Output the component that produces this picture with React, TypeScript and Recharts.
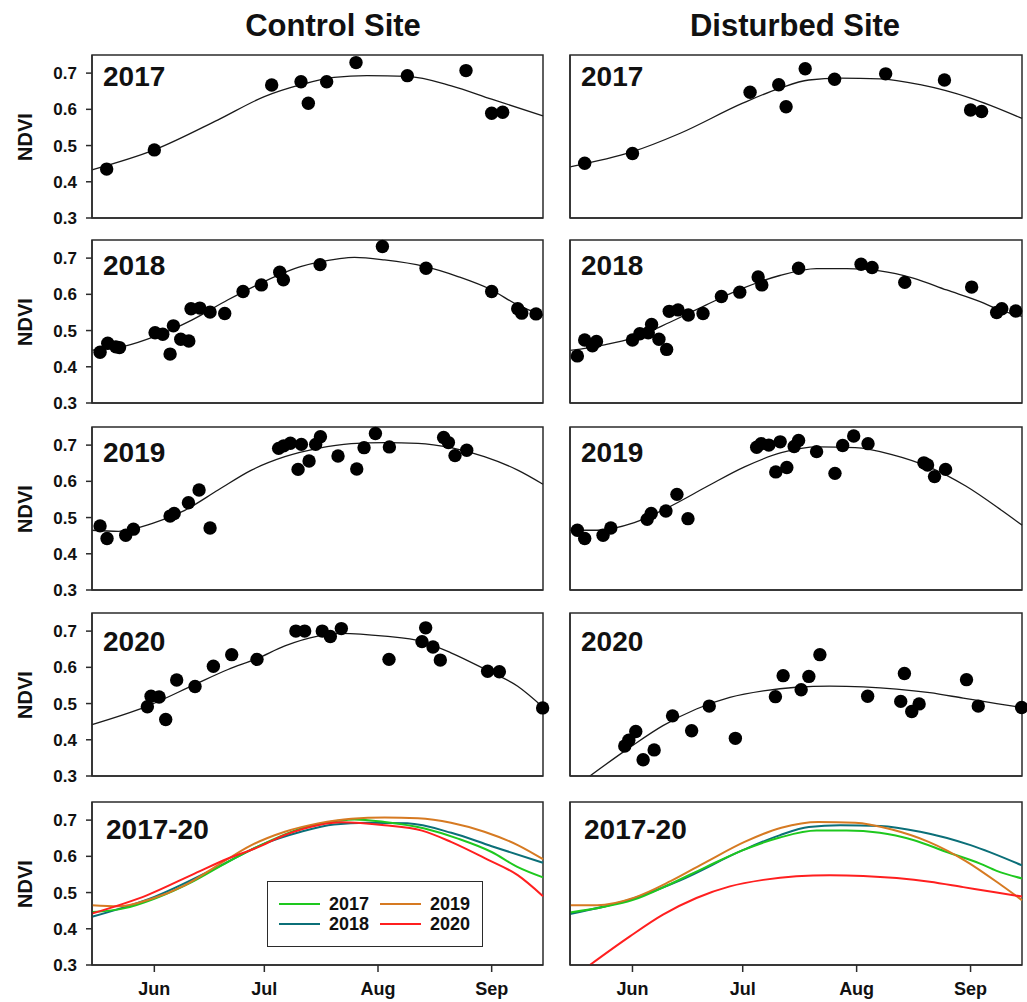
import React from 'react';
import { ComposedChart, XAxis, YAxis, Scatter, Line, ReferenceArea } from 'recharts';

// day of year for the first of each month shown on the x axis
const monthTicks = [152, 182, 213, 244];
const monthLabels = ['Jun', 'Jul', 'Aug', 'Sep'];
const ndviTicks = [0.3, 0.4, 0.5, 0.6, 0.7];
const siteTitles = ['Control Site', 'Disturbed Site'];
const yearLabels = ['2017', '2018', '2019', '2020', '2017-20'];

// observations: [day of year, NDVI]
const control2017Obs = [
  [139, 0.435], [152, 0.488], [184, 0.667], [192, 0.676], [194, 0.617], [199, 0.676],
  [207, 0.729], [221, 0.693], [237, 0.707], [244, 0.589], [247, 0.592],
];
const disturbed2017Obs = [
  [139, 0.451], [152, 0.478], [184, 0.647], [191.8, 0.668], [193.8, 0.607], [199, 0.712],
  [207, 0.683], [220.9, 0.698], [236.9, 0.681], [244, 0.598], [247, 0.594],
];
const control2018Obs = [
  [137.2, 0.44], [139.3, 0.465], [141.5, 0.455], [142.5, 0.453], [152.2, 0.494], [154.3, 0.49],
  [156.3, 0.435], [157.2, 0.513], [159.2, 0.476], [161.4, 0.471], [162, 0.56], [164.4, 0.562],
  [167.2, 0.551], [171.2, 0.547], [176.2, 0.608], [181.2, 0.626], [186.2, 0.661], [187.2, 0.64],
  [197.2, 0.682], [214.2, 0.732], [226.1, 0.672], [244, 0.608], [251.1, 0.56], [252.2, 0.548],
  [256.1, 0.546],
];
const disturbed2018Obs = [
  [137, 0.43], [139, 0.474], [141.1, 0.458], [142.2, 0.47], [152, 0.474], [154, 0.491],
  [156.3, 0.494], [157.2, 0.517], [159.2, 0.476], [161.3, 0.448], [162, 0.553], [164.4, 0.557],
  [167.2, 0.543], [171.2, 0.547], [176.2, 0.594], [181.2, 0.606], [186.2, 0.648], [187.2, 0.626],
  [197.2, 0.672], [214.2, 0.683], [217.2, 0.674], [226.1, 0.633], [244.3, 0.62], [251.1, 0.55],
  [252.5, 0.56], [256.3, 0.554],
];
const control2019Obs = [
  [137.2, 0.477], [139.1, 0.442], [144.2, 0.451], [146.3, 0.468], [156.3, 0.504], [157.4, 0.511],
  [161.3, 0.541], [164.2, 0.576], [167.2, 0.471], [185.9, 0.691], [187.3, 0.698], [189.1, 0.705],
  [192.1, 0.702], [191.2, 0.633], [194.2, 0.656], [196, 0.702], [197.3, 0.723], [202.1, 0.67],
  [207.2, 0.634], [209.2, 0.693], [212.3, 0.732], [216.1, 0.695], [230.9, 0.721], [232.2, 0.707],
  [234, 0.671], [237.2, 0.686],
];
const disturbed2019Obs = [
  [137, 0.465], [139, 0.442], [144, 0.451], [146.1, 0.471], [156, 0.495], [157.1, 0.511],
  [161.1, 0.518], [164.1, 0.564], [167.1, 0.497], [185.8, 0.694], [187, 0.704], [189.1, 0.7],
  [192.2, 0.709], [191, 0.626], [194, 0.638], [196, 0.696], [197.2, 0.713], [202.1, 0.682],
  [207.1, 0.622], [209.2, 0.699], [212.2, 0.725], [216.1, 0.704], [231.3, 0.651], [232.3, 0.645],
  [234.2, 0.613], [237.2, 0.633],
];
const control2020Obs = [
  [150.1, 0.491], [151.1, 0.52], [153.3, 0.518], [155.1, 0.456], [158.1, 0.565], [163.1, 0.547],
  [168.1, 0.603], [173.1, 0.635], [180, 0.622], [190.6, 0.7], [193, 0.7], [197.8, 0.7],
  [200, 0.685], [203, 0.707], [216, 0.622], [225, 0.671], [226, 0.709], [228, 0.656],
  [230, 0.62], [242.9, 0.589], [246.1, 0.588], [257.9, 0.488],
];
const disturbed2020Obs = [
  [149.9, 0.383], [151, 0.399], [152.9, 0.423], [154.9, 0.345], [157.9, 0.372], [162.9, 0.466],
  [168.1, 0.425], [172.9, 0.493], [180, 0.404], [190.9, 0.519], [193, 0.577], [197.9, 0.538],
  [200, 0.575], [203, 0.635], [216, 0.52], [225, 0.506], [226, 0.583], [228, 0.478],
  [230, 0.499], [242.9, 0.566], [246.1, 0.493], [257.9, 0.489],
];

// fitted seasonal curves: [day of year, NDVI]
const control2017Fit = [
  [135, 0.433], [152, 0.488], [169.4, 0.571], [182, 0.635], [192, 0.668], [201, 0.688],
  [210, 0.693], [221, 0.691], [233, 0.665], [244, 0.628], [258, 0.582],
];
const disturbed2017Fit = [
  [135, 0.441], [152, 0.483], [165, 0.534], [182, 0.617], [192, 0.658], [200, 0.681],
  [208.5, 0.686], [219.4, 0.684], [230.3, 0.668], [244, 0.631], [258, 0.575],
];
const control2018Fit = [
  [135, 0.446], [144, 0.457], [152, 0.483], [162.2, 0.529], [172.1, 0.585], [182.1, 0.636],
  [192.1, 0.677], [202.1, 0.698], [206.6, 0.702], [214.8, 0.695], [225.7, 0.677], [234.8, 0.649],
  [244, 0.612], [251, 0.571], [258, 0.542],
];
const disturbed2018Fit = [
  [135, 0.445], [144, 0.46], [152, 0.479], [162.2, 0.523], [172.1, 0.571], [182.1, 0.617],
  [192.1, 0.652], [202.1, 0.671], [210.3, 0.671], [219.3, 0.665], [228.4, 0.645], [237.5, 0.612],
  [246.6, 0.58], [251.1, 0.56], [258, 0.539],
];
const control2019Fit = [
  [135, 0.465], [142.2, 0.462], [151.3, 0.483], [160.3, 0.52], [169.4, 0.576], [178.5, 0.631],
  [187.6, 0.668], [196.6, 0.691], [205.7, 0.704], [214.8, 0.707], [223.9, 0.705], [232.9, 0.693],
  [242, 0.668], [251.1, 0.631], [258, 0.592],
];
const disturbed2019Fit = [
  [135, 0.465], [142.4, 0.465], [152.5, 0.486], [162.5, 0.532], [172.5, 0.587], [182.5, 0.64],
  [192.5, 0.679], [202.6, 0.695], [212.6, 0.693], [222.6, 0.674], [232.6, 0.64], [242.7, 0.587],
  [252.7, 0.518], [258, 0.479],
];
const control2020Fit = [
  [135, 0.442], [150.1, 0.493], [163.1, 0.553], [172.1, 0.594], [180, 0.624], [187.6, 0.659],
  [196.6, 0.686], [203, 0.694], [214.8, 0.686], [225, 0.671], [232.9, 0.64], [242.9, 0.591],
  [251.1, 0.548], [258, 0.49],
];
const disturbed2020Fit = [
  [140.4, 0.3], [151.3, 0.379], [160.3, 0.439], [169.4, 0.485], [178.5, 0.517], [187.6, 0.535],
  [196.6, 0.545], [205.7, 0.548], [214.8, 0.546], [223.9, 0.54], [232.9, 0.53], [242, 0.515],
  [251.1, 0.5], [258, 0.489],
];

const legendColors = ['#1ec81e', '#0b6f78', '#d67a22', '#ff1f1f'];
// in the combined panel the fits are drawn in these colours (as in the source figure)
const fitColors = ['#0b6f78', '#1ec81e', '#d67a22', '#ff1f1f'];

const FONT = '"Liberation Sans", Arial, sans-serif';
const INK = '#2b2b2b';
const ROW_TOPS = [55, 240, 427, 613, 802];
const LABEL_DY = [32, 36, 36, 39, 38];
const PLOT_H = 163;
const COLS = [
  { chartLeft: 0, width: 560, yAxisW: 92, right: 17 },
  { chartLeft: 560, width: 467, yAxisW: 10, right: 5 },
];

const toPts = (arr: number[][]) => arr.map(([x, y]) => ({ x, y }));

const obsByCol = [
  [control2017Obs, control2018Obs, control2019Obs, control2020Obs],
  [disturbed2017Obs, disturbed2018Obs, disturbed2019Obs, disturbed2020Obs],
];
const fitByCol = [
  [control2017Fit, control2018Fit, control2019Fit, control2020Fit],
  [disturbed2017Fit, disturbed2018Fit, disturbed2019Fit, disturbed2020Fit],
];

const Dot = (p: any) => <circle cx={p.cx} cy={p.cy} r={6.7} fill="#000" />;

interface PanelProps {
  col: number;
  row: number;
}

const Panel = ({ col, row }: PanelProps) => {
  const c = COLS[col];
  const bottom = row === 4;
  const xh = bottom ? 40 : 12;
  const top = ROW_TOPS[row] - 8;
  const plotLeft = c.chartLeft + c.yAxisW;
  const tickStyle = { fontFamily: FONT, fontWeight: 700, fill: '#111' };

  return (
    <>
      <div style={{ position: 'absolute', left: c.chartLeft, top }}>
        <ComposedChart
          width={c.width}
          height={8 + PLOT_H + xh}
          margin={{ top: 8, right: c.right, bottom: 0, left: 0 }}
        >
          <XAxis
            dataKey="x"
            type="number"
            domain={[135, 258]}
            ticks={monthTicks}
            tickFormatter={(v: number) => monthLabels[monthTicks.indexOf(v)]}
            tick={bottom ? { ...tickStyle, fontSize: 18 } : false}
            tickSize={7}
            tickMargin={10}
            height={xh}
            stroke={INK}
            strokeWidth={1.5}
          />
          <YAxis
            type="number"
            domain={[0.3, 0.75]}
            ticks={ndviTicks}
            tickFormatter={(v: number) => v.toFixed(1)}
            tick={col === 0 ? { ...tickStyle, fontSize: 17 } : false}
            tickSize={6}
            tickMargin={9}
            width={c.yAxisW}
            stroke={INK}
            strokeWidth={1.5}
          />
          <ReferenceArea x1={135} x2={258} y1={0.3} y2={0.75} fill="none" stroke={INK} strokeWidth={1.5} />
          {!bottom && (
            <Line
              data={toPts(fitByCol[col][row])}
              dataKey="y"
              type="monotone"
              stroke="#1a1a1a"
              strokeWidth={1.3}
              dot={false}
              isAnimationActive={false}
            />
          )}
          {!bottom && (
            <Scatter data={toPts(obsByCol[col][row])} dataKey="y" shape={Dot} isAnimationActive={false} />
          )}
          {bottom &&
            fitByCol[col].map((fit, i) => (
              <Line
                key={i}
                data={toPts(fit)}
                dataKey="y"
                type="monotone"
                stroke={fitColors[i]}
                strokeWidth={2}
                dot={false}
                isAnimationActive={false}
              />
            ))}
        </ComposedChart>
      </div>
      <div
        style={{
          position: 'absolute',
          left: plotLeft + (bottom ? 14 : 11),
          top: ROW_TOPS[row] + LABEL_DY[row] - 24,
          fontFamily: FONT,
          fontWeight: 700,
          fontSize: 28,
          lineHeight: '28px',
          color: '#111',
          whiteSpace: 'nowrap',
        }}
      >
        {yearLabels[row]}
      </div>
      {col === 0 && (
        <div
          style={{
            position: 'absolute',
            left: 25,
            top: ROW_TOPS[row] + PLOT_H / 2,
            transform: 'translate(-50%, -50%) rotate(-90deg)',
            fontFamily: FONT,
            fontWeight: 700,
            fontSize: 20,
            lineHeight: '20px',
            color: '#111',
          }}
        >
          NDVI
        </div>
      )}
    </>
  );
};

const LegendBox = () => {
  const item = (i: number, left: number, top: number) => (
    <div key={i} style={{ position: 'absolute', left, top, display: 'flex', alignItems: 'center' }}>
      <div style={{ width: 41, height: 2.5, background: legendColors[i], marginRight: 9 }} />
      <span style={{ fontFamily: FONT, fontWeight: 700, fontSize: 18, lineHeight: '18px', color: '#111' }}>
        {yearLabels[i]}
      </span>
    </div>
  );
  return (
    <div
      style={{
        position: 'absolute',
        left: 267,
        top: 881,
        width: 214,
        height: 64,
        border: `1.5px solid ${INK}`,
        background: '#fff',
      }}
    >
      {item(0, 11, 13)}
      {item(1, 11, 33)}
      {item(2, 112, 13)}
      {item(3, 112, 33)}
    </div>
  );
};

export default function App() {
  return (
    <div style={{ position: 'relative', width: 1027, height: 1002, background: '#fff', overflow: 'hidden' }}>
      <style>{'body{margin:0}'}</style>
      {siteTitles.map((t, i) => (
        <div
          key={t}
          style={{
            position: 'absolute',
            left: i === 0 ? 333 : 795,
            top: 10,
            transform: 'translateX(-50%)',
            fontFamily: FONT,
            fontWeight: 700,
            fontSize: 31,
            lineHeight: '31px',
            color: '#111',
            whiteSpace: 'nowrap',
          }}
        >
          {t}
        </div>
      ))}
      {[0, 1].map((col) => [0, 1, 2, 3, 4].map((row) => <Panel key={`${col}-${row}`} col={col} row={row} />))}
      <LegendBox />
    </div>
  );
}
